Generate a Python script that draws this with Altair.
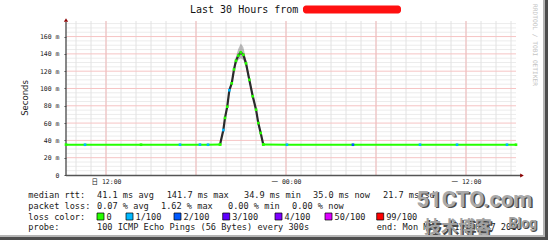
import altair as alt
import pandas as pd

# ---------------- data ----------------
# hours since the start of the 30 h window, median RTT in ms, loss level index
before_h = [0.0, 1.27, 5.0, 7.6, 8.93, 9.47, 10.27]
before_ms = [35.1, 35.0, 35.0, 35.0, 35.1, 35.0, 35.2]
before_loss = [0, 1, 0, 1, 1, 1, 0]

ramp_h = [10.27, 10.49, 10.6, 10.75, 10.89, 11.05, 11.2, 11.33, 11.49, 11.65,
          11.82, 12.0, 12.22, 12.45, 12.67, 12.82, 12.98, 13.15]
ramp_ms = [35.2, 52, 66, 79, 98, 106, 122, 132, 138, 141.7,
           139, 129, 110, 91, 75.5, 60, 48.5, 35.3]
ramp_lo = [35.0, 50, 64, 77, 95, 103, 119, 128, 133, 135,
           133, 125, 107, 88, 73, 58, 46.5, 35.0]
ramp_hi = [35.6, 54, 68, 81, 101, 109, 125, 137, 146, 152,
           148, 134, 113, 94, 78, 62, 50.5, 35.6]
ramp_loss = [0, 1, 0, 0, 1, 0, 0, 0, 0, 0, 0, 0, 0, 0, 0, 0, 0, 0]

after_h = [13.15, 14.73, 19.13, 23.6, 26.07, 29.4, 30.0]
after_ms = [35.3, 35.0, 35.0, 35.0, 35.0, 35.0, 35.0]
after_loss = [0, 1, 2, 1, 1, 1, 0]

loss_labels = ["0", "1/100", "2/100", "3/100", "4/100", "50/100", "99/100"]
loss_colors = ["#26ff00", "#00b8ff", "#0059ff", "#5e00ff", "#7e00ff", "#dd00ff", "#ff0000"]

y_ticks = [0, 20, 40, 60, 80, 100, 120, 140, 160]
x_tick_hours = [2.667, 14.667, 26.667]
x_tick_labels = ["日 12:00", "一 00:00", "一 12:00"]

title_text = "Last 30 Hours from"
stats_rtt = ["median rtt:", "41.1 ms avg", "141.7 ms max", "34.9 ms min", "35.0 ms now", "21.7 ms sd"]
stats_loss = ["packet loss:", "0.07 % avg", "1.62 % max", "0.00 % min", "0.00 % now"]
probe_text = ["probe:", "100 ICMP Echo Pings (56 Bytes) every 300s", "end: Mon Mar  1 15:20:37 2010"]

# ---------------- layout ----------------
W, H = 450, 154
X0, Y0 = 66, 21
MONO = "DejaVu Sans Mono, Noto Sans CJK SC"
YMAX = 178

rows = []
for h, m, l in zip(before_h, before_ms, before_loss):
    rows.append(dict(t=h, ms=m, lo=m, hi=m, loss=loss_labels[l], part="a"))
for h, m, lo, hi, l in zip(ramp_h, ramp_ms, ramp_lo, ramp_hi, ramp_loss):
    rows.append(dict(t=h, ms=m, lo=lo, hi=hi, loss=loss_labels[l], part="r"))
for h, m, l in zip(after_h, after_ms, after_loss):
    rows.append(dict(t=h, ms=m, lo=m, hi=m, loss=loss_labels[l], part="b"))
df = pd.DataFrame(rows)

label_expr = "".join(
    f"abs(datum.value - {h}) < 0.01 ? '{lab}' : " for h, lab in zip(x_tick_hours, x_tick_labels)
) + "''"

xenc = alt.X("t:Q", scale=alt.Scale(domain=[0, 30], nice=False, zero=False),
             axis=alt.Axis(values=x_tick_hours, labelExpr=label_expr, grid=False, domain=False,
                           ticks=False, labelFont=MONO, labelFontSize=6.5, labelColor="#222",
                           labelPadding=3, title=None, labelOverlap=False, labelFlush=False))
yscale = alt.Scale(domain=[0, YMAX], nice=False, zero=True)
yaxis = alt.Axis(values=y_ticks, labelExpr="datum.value == 0 ? '0' : datum.value + ' m'",
                 grid=False, domain=False, ticks=True, tickSize=2, tickColor="#444",
                 labelFont=MONO, labelFontSize=6.5, labelColor="#222", labelPadding=5, title=None)

# grid
hour_lines = pd.DataFrame({"t": [k + 2 / 3 for k in range(30)]})
major_lines = pd.DataFrame({"t": x_tick_hours + [8.667, 20.667]})
hgrid_minor = pd.DataFrame({"ms": [v for v in range(5, 180, 5) if v % 20]})
hgrid_major = pd.DataFrame({"ms": [20, 40, 60, 80, 100, 120, 140, 160]})

g1 = alt.Chart(hgrid_minor).mark_rule(color="#ececec", strokeWidth=1).encode(
    y=alt.Y("ms:Q", scale=yscale, axis=yaxis))
g2 = alt.Chart(hour_lines).mark_rule(color="#e2e2e2", strokeWidth=1).encode(x=xenc)
g3 = alt.Chart(hgrid_major).mark_rule(color="#f6c4c4", strokeWidth=1).encode(
    y=alt.Y("ms:Q", scale=yscale, axis=yaxis))
g4 = alt.Chart(major_lines).mark_rule(color="#f3baba", strokeWidth=1).encode(x=xenc)

ramp = df[df.part == "r"]
smoke = alt.Chart(ramp).mark_area(color="#444", opacity=0.35).encode(
    x=xenc, y=alt.Y("lo:Q", scale=yscale, axis=yaxis), y2="hi:Q")
dark = alt.Chart(ramp).mark_line(color="#2b2b2b", strokeWidth=2.2).encode(
    x=xenc, y=alt.Y("ms:Q", scale=yscale, axis=yaxis))
green = alt.Chart(df[df.part != "r"]).mark_line(color="#26ff00", strokeWidth=2).encode(
    x=xenc, y=alt.Y("ms:Q", scale=yscale, axis=yaxis), detail="part:N")
dots = alt.Chart(df).mark_square(size=7, opacity=1, filled=True).encode(
    x=xenc, y=alt.Y("ms:Q", scale=yscale, axis=yaxis),
    color=alt.Color("loss:N", scale=alt.Scale(domain=loss_labels, range=loss_colors), legend=None))


def texts(items, size, font=MONO, color="#1a1a1a", align="left", baseline="middle",
          angle=0, weight="normal"):
    d = pd.DataFrame(items, columns=["label", "x", "y"])
    d["x"] = d["x"] - X0
    d["y"] = d["y"] - Y0
    kw = dict(align=align, baseline=baseline, fontSize=size, font=font, color=color, fontWeight=weight)
    if angle:
        kw["angle"] = angle
    return alt.Chart(d).mark_text(**kw).encode(
        x=alt.X("x:Q", scale=None, axis=None), y=alt.Y("y:Q", scale=None, axis=None), text="label:N")


def rects(items, color, stroke=None, sw=0, radius=0):
    d = pd.DataFrame(items, columns=["x", "x2", "y", "y2"])
    d[["x", "x2"]] -= X0
    d[["y", "y2"]] -= Y0
    kw = dict(color=color)
    if stroke:
        kw.update(stroke=stroke, strokeWidth=sw)
    if radius:
        kw["cornerRadius"] = radius
    return alt.Chart(d).mark_rect(**kw).encode(
        x=alt.X("x:Q", scale=None, axis=None), x2="x2:Q",
        y=alt.Y("y:Q", scale=None, axis=None), y2="y2:Q")


def rules(items, color, width):
    d = pd.DataFrame(items, columns=["x", "x2", "y", "y2"])
    d[["x", "x2"]] -= X0
    d[["y", "y2"]] -= Y0
    return alt.Chart(d).mark_rule(color=color, strokeWidth=width).encode(
        x=alt.X("x:Q", scale=None, axis=None), x2="x2:Q",
        y=alt.Y("y:Q", scale=None, axis=None), y2="y2:Q")


def arrow(x, y, shape):
    d = pd.DataFrame({"x": [x - X0], "y": [y - Y0]})
    return alt.Chart(d).mark_point(shape=shape, size=18, filled=True, color="#8b0000", opacity=1).encode(
        x=alt.X("x:Q", scale=None, axis=None), y=alt.Y("y:Q", scale=None, axis=None))


axes_lines = rules([(66, 521, 175.5, 175.5), (66, 66, 175.5, 22)], "#555", 1.4)
arr = arrow(522, 175.5, "triangle-right") + arrow(66, 20, "triangle-up")

title = texts([(title_text, 190, 10)], 10, color="#111")
redact = rects([(303, 401, 5.5, 13.5)], "#ff1010", radius=3)
rrd = texts([("RRDTOOL / TOBI OETIKER", 535, 45)], 6.2, color="#c4c4c4", align="center", angle=90)
seconds = texts([("Seconds", 25, 98)], 8.5, font="DejaVu Sans", color="#222", align="center", angle=270)

rtt_x = [28.3, 97, 166.7, 244, 313, 383]
loss_x = [28.3, 97, 161, 228, 292]
probe_x = [28.3, 97, 376.7]
box_x = [97, 126, 174, 222.7, 275, 325, 376.7]
L1, L2, L3, L4 = 195, 205.5, 216.5, 227
FS = 8.6

row1 = texts([(s, x, L1) for s, x in zip(stats_rtt, rtt_x)], FS)
row2 = texts([(s, x, L2) for s, x in zip(stats_loss, loss_x)], FS)
row3 = texts([("loss color:", 28.3, L3)] + [(lab, bx + 9.5, L3) for lab, bx in zip(loss_labels, box_x)], FS)
row4 = texts([(s, x, L4) for s, x in zip(probe_text, probe_x)], FS)

boxes = alt.layer(*[
    rects([(bx, bx + 7, L3 - 3.5, L3 + 3.5)], c, stroke="#000", sw=0.7)
    for bx, c in zip(box_x, loss_colors)
])

# watermark
wm_font = "Roboto, Liberation Sans, sans-serif"
wm = alt.layer(
    texts([("51CTO.com", 418, 208)], 22, font=wm_font, color="#4a4a4a", baseline="alphabetic", weight="bold"),
    texts([("51CTO.com", 416.5, 206.5)], 22, font=wm_font, color="#a9a9a9", baseline="alphabetic", weight="bold"),
    texts([("技术博客", 425.5, 234.5)], 17, font="Noto Sans CJK SC", color="#4a4a4a", baseline="alphabetic", weight="bold"),
    texts([("技术博客", 424, 233)], 17, font="Noto Sans CJK SC", color="#a0a0a0", baseline="alphabetic", weight="bold"),
    texts([("Blog", 509.5, 228.5)], 14, font=wm_font, color="#4a4a4a", baseline="alphabetic", weight="bold"),
    texts([("Blog", 508.5, 227.5)], 14, font=wm_font, color="#a0a0a0", baseline="alphabetic", weight="bold"),
)

frame = alt.layer(
    rects([(543, 545, 0, 238)], "#b5b5b5"),
    rects([(545, 548, 0, 240)], "#4d4d4d"),
    rects([(0, 545, 235, 237)], "#b5b5b5"),
    rects([(0, 548, 237, 240)], "#4d4d4d"),
)

chart = alt.layer(
    g1, g2, g3, g4, axes_lines, arr,
    smoke, dark, green, dots,
    title, redact, rrd, seconds,
    row1, row2, row3, boxes, row4,
    wm, frame,
).properties(
    width=W, height=H,
    padding={"left": X0, "top": Y0, "right": 550 - X0 - W, "bottom": 241 - Y0 - H},
    autosize=alt.AutoSizeParams(type="none"),
    background="white",
).configure_view(stroke=None)

chart.save("out.html", embed_options={"renderer": "svg", "actions": False})
